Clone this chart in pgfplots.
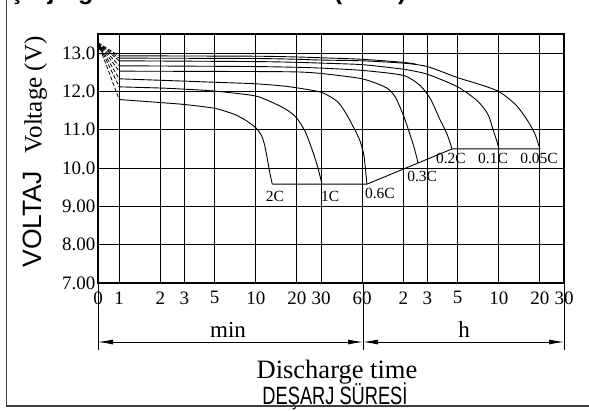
\documentclass[border=0pt]{standalone}
\usepackage{fontspec}
\setmainfont{Liberation Serif}
\setsansfont{Liberation Sans}
\newfontfamily\condsans{Liberation Sans}[FakeStretch=0.73]
\usepackage{pgfplots}
\pgfplotsset{compat=1.18}
\usetikzlibrary{arrows.meta}

\begin{document}
\begin{tikzpicture}[x=1pt,y=1pt]
\useasboundingbox (0,0) rectangle (589,410);
\begin{axis}[
  at={(98pt,127pt)}, anchor=south west,
  scale only axis, width=466pt, height=249pt,
  xmode=log, xmin=0.7, xmax=1800, ymin=7, ymax=13.5,
  xtick={0.7,1,2,3,5,10,20,30,60,120,180,300,600,1200,1800},
  xticklabels={0,1,2,3,5,10,20,30,60,2,3,5,10,20,30},
  ytick={7,8,9,10,11,12,13},
  yticklabels={7.00,8.00,9.00,10.0,11.0,12.0,13.0},
  grid=major, major grid style={black, line width=1pt},
  axis line style={black, line width=1.1pt},
  tick style={draw=none},
  xticklabel style={font=\fontsize{19}{19}\selectfont, yshift=-5pt},
  yticklabel style={font=\fontsize{19}{19}\selectfont, xshift=1pt},
  clip=false,
]
% 2C
\addplot[black, line width=0.9pt, smooth, tension=0.4] coordinates {
 (1,11.79) (2,11.71) (3,11.66) (5,11.56) (7,11.40) (8.5,11.24) (10,11.05)
 (11,10.85) (11.6,10.6) (12.2,10.2) (12.7,9.85) (13.2,9.58)};
% 1C
\addplot[black, line width=0.9pt, smooth, tension=0.4] coordinates {
 (1,12.12) (2,12.09) (3,12.06) (5,12.01) (10,11.88) (15,11.62) (18,11.45)
 (20,11.3) (23,10.95) (26.3,10.4) (28.5,10.0) (30.5,9.58)};
% 0.6C
\addplot[black, line width=0.9pt, smooth, tension=0.4] coordinates {
 (1,12.33) (3,12.27) (5,12.24) (10,12.2) (17,12.13) (30,11.98) (40,11.72)
 (47,11.35) (53,11.0) (58,10.7) (62,10.3) (65,9.58)};
% 0.3C
\addplot[black, line width=0.9pt, smooth, tension=0.4] coordinates {
 (1,12.53) (10,12.52) (20,12.51) (30,12.47) (60,12.33) (90,12.1) (105,11.85)
 (121,11.35) (135,10.85) (145,10.5) (154,10.13)};
% 0.2C
\addplot[black, line width=0.9pt, smooth, tension=0.4] coordinates {
 (1,12.67) (10,12.65) (20,12.63) (30,12.61) (60,12.55) (120,12.42) (160,12.15)
 (190,11.8) (223,11.26) (250,10.9) (273,10.5)};
% 0.1C
\addplot[black, line width=0.9pt, smooth, tension=0.4] coordinates {
 (1,12.80) (10,12.78) (20,12.76) (30,12.74) (60,12.7) (120,12.58) (180,12.45)
 (300,12.12) (420,11.75) (500,11.4) (545,11.0) (575,10.75) (602,10.5)};
% 0.05C
\addplot[black, line width=0.9pt, smooth, tension=0.4] coordinates {
 (1,12.87) (10,12.86) (20,12.84) (30,12.82) (60,12.8) (120,12.74) (180,12.65)
 (300,12.36) (420,12.2) (600,12.0) (800,11.65) (966,11.26) (1100,10.9) (1200,10.5)};
% top line joining 0.05C
\addplot[black, line width=0.9pt, smooth, tension=0.4] coordinates {
 (1,12.93) (10,12.92) (20,12.9) (30,12.88) (60,12.84) (120,12.76) (150,12.71)};
% end-of-discharge line
\addplot[black, line width=0.9pt] coordinates {
 (13.2,9.58) (65,9.58) (273,10.5) (1200,10.5)};
% dashed starting lines
\foreach \v in {12.93,12.87,12.80,12.67,12.53,12.33,12.12,11.79}{
  \addplot[black, line width=0.8pt, dash pattern=on 4pt off 2pt] coordinates {(0.7,13.27) (1,\v)};
}
\addplot[black, line width=0.8pt, -{Latex[length=7pt,width=4pt]}] coordinates {(0.76,13.0) (0.7,13.27)};
% rate labels
\node[font=\fontsize{15.5}{16}\selectfont] at (axis cs:13.8,9.25) {2C};
\node[font=\fontsize{15.5}{16}\selectfont] at (axis cs:35,9.25) {1C};
\node[font=\fontsize{15.5}{16}\selectfont] at (axis cs:81,9.35) {0.6C};
\node[font=\fontsize{15.5}{16}\selectfont] at (axis cs:165,9.77) {0.3C};
\node[font=\fontsize{15.5}{16}\selectfont] at (axis cs:268,10.24) {0.2C};
\node[font=\fontsize{15.5}{16}\selectfont] at (axis cs:544,10.24) {0.1C};
\node[font=\fontsize{15.5}{16}\selectfont] at (axis cs:1181,10.24) {0.05C};
\end{axis}
% time span markers
\draw[line width=0.8pt] (98,127) -- (98,60);
\draw[line width=0.8pt] (363,127) -- (363,60);
\draw[line width=0.8pt] (564,127) -- (564,60);
\draw[line width=0.8pt, {Latex[length=15pt,width=5pt]}-{Latex[length=15pt,width=5pt]}] (98,68) -- (363,68);
\draw[line width=0.8pt, {Latex[length=15pt,width=5pt]}-{Latex[length=15pt,width=5pt]}] (363,68) -- (564,68);
\node[font=\fontsize{23}{23}\selectfont] at (228,80) {min};
\node[font=\fontsize{23}{23}\selectfont] at (464,80) {h};
\node[font=\fontsize{26.5}{27}\selectfont] at (337,38) {Discharge time};
\node[font=\condsans\fontsize{25}{25}\selectfont] at (335,13.5) {DEŞARJ SÜRESİ};
\node[rotate=90, font=\fontsize{25}{25}\selectfont] at (35,258) {{\sffamily\fontsize{26.5}{27}\selectfont VOLTAJ}\hspace{18pt}Voltage (V)};
% frame and cut title
\draw[line width=1.3pt, black!75] (6.5,410) -- (6.5,4) -- (589,4);
\node[anchor=base west, inner sep=0pt, font=\sffamily\bfseries\fontsize{25}{25}\selectfont] at (-22,410) {Deşarj Eğrisi Karakteristikleri (25°C)};
\end{tikzpicture}
\end{document}
